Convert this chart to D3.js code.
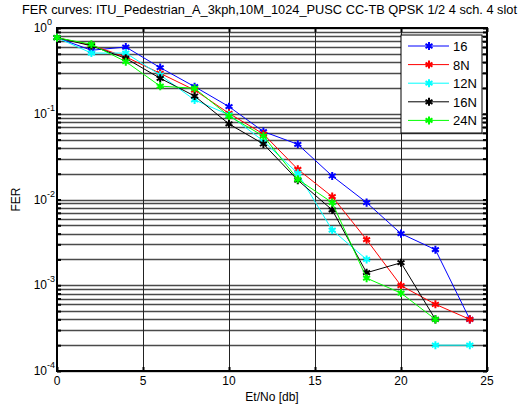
<!DOCTYPE html>
<html>
<head>
<meta charset="utf-8">
<script src="https://cdn.jsdelivr.net/npm/d3@7"></script>
<style>
  html, body { margin: 0; padding: 0; background: #fff; overflow: hidden; }
  svg { display: block; font-family: "Liberation Sans", Arial, sans-serif; }
</style>
</head>
<body>
<svg id="chart" width="528" height="410"></svg>
<script>
// ---- data ----
const titleText = "FER curves: ITU_Pedestrian_A_3kph,10M_1024_PUSC CC-TB QPSK 1/2 4 sch. 4 slot";
const xLabel = "Et/No [db]";
const yLabel = "FER";
const etno = [0, 2, 4, 6, 8, 10, 12, 14, 16, 18, 20, 22, 24];
const seriesNames = ["16", "8N", "12N", "16N", "24N"];
const seriesColors = ["#0000ff", "#ff0000", "#00ffff", "#000000", "#00ff00"];
const fer16  = [0.77, 0.55, 0.60, 0.345, 0.207, 0.121, 0.062, 0.044, 0.0188, 0.0092, 0.0040, 0.0026, 0.0004];
const fer8N  = [0.77, 0.63, 0.46, 0.296, 0.189, 0.101, 0.058, 0.0225, 0.0108, 0.0034, 0.00099, 0.0006, 0.0004];
const fer12N = [0.77, 0.51, 0.51, 0.283, 0.145, 0.097, 0.048, 0.0202, 0.0044, 0.0020, null, 0.0002, 0.0002];
const fer16N = [0.77, 0.62, 0.443, 0.259, 0.161, 0.076, 0.0444, 0.0168, 0.00755, 0.0014, 0.00183, 0.0004, null];
const fer24N = [0.77, 0.646, 0.405, 0.21, 0.198, 0.094, 0.055, 0.0172, 0.0092, 0.00121, 0.00081, 0.0004, null];
const xTicks = [0, 5, 10, 15, 20, 25];
const yExponents = [0, -1, -2, -3, -4];

const allSeries = [fer16, fer8N, fer12N, fer16N, fer24N];

// ---- layout ----
const svg = d3.select("#chart");
const L = 57, R = 487, T = 28, B = 371;
const x = d3.scaleLinear().domain([0, 25]).range([L, R]);
const y = d3.scaleLog().domain([1e-4, 1]).range([B, T]);

// grid: horizontal at every decade sub-value
const hVals = [];
for (let e = -4; e < 0; e++) for (let m = 1; m <= 9; m++) hVals.push(m * Math.pow(10, e));
hVals.push(1);

const grid = svg.append("g");
grid.selectAll("line.h").data(hVals).join("line")
  .attr("x1", L).attr("x2", R)
  .attr("y1", d => Math.round(y(d)) + 0.5).attr("y2", d => Math.round(y(d)) + 0.5)
  .attr("stroke", "#4a4a4a").attr("stroke-width", 1.4);
grid.selectAll("line.v").data(xTicks.slice(1, -1)).join("line")
  .attr("x1", d => Math.round(x(d)) + 0.5).attr("x2", d => Math.round(x(d)) + 0.5)
  .attr("y1", T).attr("y2", B)
  .attr("stroke", "#222").attr("stroke-width", 1);

// ticks (inward) via axes
const yAxisL = d3.axisRight(y).tickValues(hVals).tickSize(4).tickFormat("");
const yAxisR = d3.axisLeft(y).tickValues(hVals).tickSize(4).tickFormat("");
const xAxisB = d3.axisTop(x).tickValues(xTicks).tickSize(4).tickFormat("");
const xAxisT = d3.axisBottom(x).tickValues(xTicks).tickSize(4).tickFormat("");
[[yAxisL, `translate(${L},0)`], [yAxisR, `translate(${R},0)`],
 [xAxisB, `translate(0,${B})`], [xAxisT, `translate(0,${T})`]].forEach(([ax, tr]) => {
  const g = svg.append("g").attr("transform", tr).call(ax);
  g.select(".domain").remove();
  g.selectAll("line").attr("stroke", "#000").attr("stroke-width", 2);
});

// frame
svg.append("rect").attr("x", L).attr("y", T).attr("width", R - L).attr("height", B - T)
  .attr("fill", "none").attr("stroke", "#000").attr("stroke-width", 2);

// x tick labels
svg.append("g").selectAll("text").data(xTicks).join("text")
  .attr("x", d => x(d)).attr("y", 385)
  .attr("text-anchor", "middle").attr("font-size", 12).attr("fill", "#000")
  .text(d => d);

// y tick labels 10^e
const yl = svg.append("g").selectAll("g").data(yExponents).join("g")
  .attr("transform", d => `translate(47,${y(Math.pow(10, d)) + 4})`);
yl.append("text").attr("text-anchor", "end").attr("font-size", 12).attr("fill", "#000").text("10");
yl.append("text").attr("x", 0).attr("y", -7).attr("font-size", 9).attr("fill", "#000").text(d => d);

// labels
svg.append("text").attr("x", (L + R) / 2).attr("y", 401).attr("text-anchor", "middle")
  .attr("font-size", 12).text(xLabel);
svg.append("text").attr("transform", `translate(20,${(T + B) / 2}) rotate(-90)`)
  .attr("text-anchor", "middle").attr("font-size", 12).text(yLabel);
svg.append("text").attr("x", 22).attr("y", 14).attr("font-size", 12.8).text(titleText);

// series
const line = d3.line().defined(d => d[1] != null).x(d => x(d[0])).y(d => y(d[1]));
const star = d3.symbol().type(d3.symbolAsterisk).size(45);
allSeries.forEach((vals, i) => {
  const pts = etno.map((e, k) => [e, vals[k]]);
  const g = svg.append("g");
  g.append("path").datum(pts).attr("d", line).attr("fill", "none")
    .attr("stroke", seriesColors[i]).attr("stroke-width", 1);
  g.selectAll("path.m").data(pts.filter(p => p[1] != null)).join("path")
    .attr("class", "m")
    .attr("transform", p => `translate(${x(p[0])},${y(p[1])})`)
    .attr("d", star).attr("fill", "none")
    .attr("stroke", seriesColors[i]).attr("stroke-width", 2);
});

// legend
const lg = svg.append("g");
lg.append("rect").attr("x", 401).attr("y", 35).attr("width", 81).attr("height", 98)
  .attr("fill", "#fff").attr("stroke", "#000").attr("stroke-width", 1);
const entries = lg.selectAll("g.e").data(seriesNames).join("g").attr("class", "e")
  .attr("transform", (d, i) => `translate(0,${46 + i * 18.6})`);
entries.append("line").attr("x1", 408).attr("x2", 449)
  .attr("stroke", (d, i) => seriesColors[i]).attr("stroke-width", 1);
entries.append("path").attr("transform", "translate(429,0)").attr("d", star)
  .attr("fill", "none").attr("stroke", (d, i) => seriesColors[i]).attr("stroke-width", 2);
entries.append("text").attr("x", 453).attr("y", 5).attr("font-size", 13).text(d => d);
</script>
</body>
</html>
